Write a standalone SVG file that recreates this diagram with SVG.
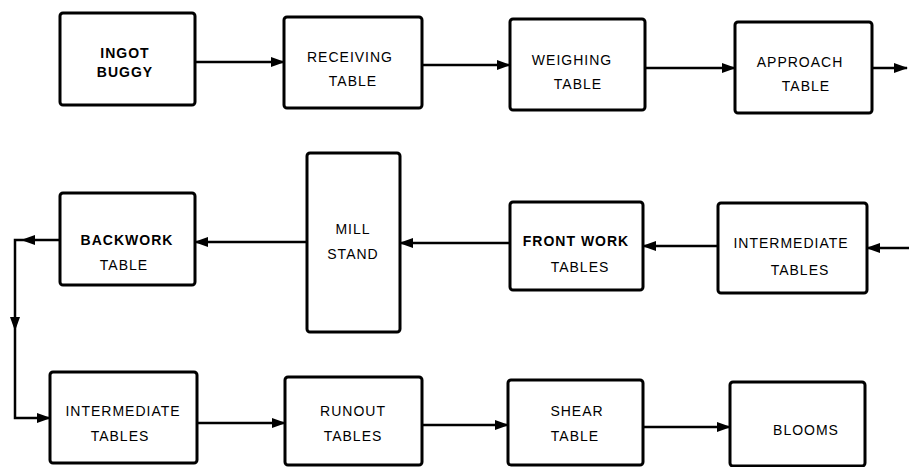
<svg xmlns="http://www.w3.org/2000/svg" width="909" height="467" viewBox="0 0 909 467">
<style>
.box{fill:#fff;stroke:#000;stroke-width:3;}
.t{font-family:"Liberation Sans",Arial,sans-serif;font-size:14px;fill:#000;text-anchor:middle;letter-spacing:1px;}
.c{stroke:#000;stroke-width:2.5;fill:none;}
</style>
<defs>
<marker id="ah" viewBox="0 0 14 10" refX="13" refY="5" markerWidth="14" markerHeight="10" markerUnits="userSpaceOnUse" orient="auto">
<path d="M0,0 L14,5 L0,10 Z" fill="#000"/>
</marker>
</defs>
<rect width="909" height="467" fill="#fff"/>
<g id="connectors">
<line class="c" x1="195" y1="62" x2="284" y2="62" marker-end="url(#ah)"/>
<line class="c" x1="422" y1="65" x2="510" y2="65" stroke-width="1.8" marker-end="url(#ah)"/>
<line class="c" x1="645" y1="68" x2="735" y2="68" marker-end="url(#ah)"/>
<line class="c" x1="872" y1="68" x2="907" y2="68" marker-end="url(#ah)"/>
<line class="c" x1="909" y1="248" x2="867" y2="248" marker-end="url(#ah)"/>
<line class="c" x1="718" y1="246" x2="643" y2="246" marker-end="url(#ah)"/>
<line class="c" x1="510" y1="243" x2="400" y2="243" marker-end="url(#ah)"/>
<line class="c" x1="307" y1="242" x2="195" y2="242" marker-end="url(#ah)"/>
<line class="c" x1="60" y1="240" x2="22" y2="240" marker-end="url(#ah)"/>
<path class="c" d="M22,240 L15,240 L15,330" marker-end="url(#ah)"/>
<path class="c" d="M15,330 L15,418 L50,418" marker-end="url(#ah)"/>
<line class="c" x1="197" y1="423" x2="285" y2="423" marker-end="url(#ah)"/>
<line class="c" x1="422" y1="425" x2="508" y2="425" marker-end="url(#ah)"/>
<line class="c" x1="643" y1="427" x2="730" y2="427" marker-end="url(#ah)"/>
</g>
<g id="ingot-buggy"><rect class="box" x="60" y="13" width="135" height="92" rx="3" stroke-width="3.5"/><text class="t" x="125" y="58" font-weight="bold" font-size="12">INGOT</text><text class="t" x="125" y="77" font-weight="bold" font-size="12">BUGGY</text></g>
<g id="receiving-table"><rect class="box" x="284" y="17" width="138" height="91" rx="3"/><text class="t" x="350" y="62">RECEIVING</text><text class="t" x="353" y="86">TABLE</text></g>
<g id="weighing-table"><rect class="box" x="510" y="19" width="135" height="91" rx="3"/><text class="t" x="572" y="65">WEIGHING</text><text class="t" x="578" y="89">TABLE</text></g>
<g id="approach-table"><rect class="box" x="735" y="22" width="137" height="91" rx="3"/><text class="t" x="800" y="67">APPROACH</text><text class="t" x="806" y="91">TABLE</text></g>
<g id="backwork-table"><rect class="box" x="60" y="193" width="135" height="92" rx="3"/><text class="t" x="127" y="245" font-weight="bold" font-size="13">BACKWORK</text><text class="t" x="124" y="270">TABLE</text></g>
<g id="mill-stand"><rect class="box" x="307" y="153" width="93" height="179" rx="3"/><text class="t" x="353" y="234">MILL</text><text class="t" x="353" y="259">STAND</text></g>
<g id="front-work-tables"><rect class="box" x="510" y="202" width="133" height="88" rx="3"/><text class="t" x="576" y="246" font-weight="bold" letter-spacing="0">FRONT WORK</text><text class="t" x="580" y="272">TABLES</text></g>
<g id="intermediate-tables-1"><rect class="box" x="718" y="203" width="149" height="90" rx="3"/><text class="t" x="791" y="248" letter-spacing="0.5">INTERMEDIATE</text><text class="t" x="800" y="275">TABLES</text></g>
<g id="intermediate-tables-2"><rect class="box" x="50" y="372" width="147" height="91" rx="3"/><text class="t" x="123" y="416" letter-spacing="0">INTERMEDIATE</text><text class="t" x="120" y="441">TABLES</text></g>
<g id="runout-tables"><rect class="box" x="285" y="377" width="137" height="88" rx="3"/><text class="t" x="353" y="416">RUNOUT</text><text class="t" x="353" y="441">TABLES</text></g>
<g id="shear-table"><rect class="box" x="508" y="380" width="135" height="85" rx="3"/><text class="t" x="577" y="416">SHEAR</text><text class="t" x="575" y="441">TABLE</text></g>
<g id="blooms"><rect class="box" x="730" y="382" width="135" height="84" rx="3"/><text class="t" x="806" y="435">BLOOMS</text></g>
</svg>
